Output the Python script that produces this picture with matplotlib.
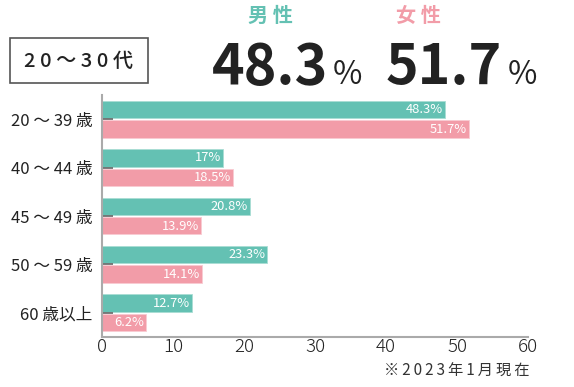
import matplotlib
matplotlib.use("Agg")
import matplotlib.pyplot as plt
from matplotlib.patches import Rectangle

plt.rcParams['font.family'] = ['Noto Sans CJK JP', 'DejaVu Sans']

categories = ["20 ～ 39 歳", "40 ～ 44 歳", "45 ～ 49 歳", "50 ～ 59 歳", "60 歳以上"]
male = [48.3, 17, 20.8, 23.3, 12.7]
female = [51.7, 18.5, 13.9, 14.1, 6.2]
male_labels = ["48.3%", "17%", "20.8%", "23.3%", "12.7%"]
female_labels = ["51.7%", "18.5%", "13.9%", "14.1%", "6.2%"]
xticks = [0, 10, 20, 30, 40, 50, 60]

TEAL = "#64c1b3"
PINK = "#f29ca8"

W, H = 574, 387
fig = plt.figure(figsize=(W / 100, H / 100), dpi=100)

def fx(x):
    return x / W

def fy(y):
    return 1 - y / H

ax = fig.add_axes([fx(102), fy(337), fx(528) - fx(102), fy(95) - fy(337)])

ys = list(range(len(categories)))
bh = 0.36
off = 0.2
ax.barh([y - off for y in ys], male, height=bh, color=TEAL, edgecolor="#a9ddd4", linewidth=0.6)
ax.barh([y + off for y in ys], female, height=bh, color=PINK, edgecolor="#f8cbd2", linewidth=0.6)

for y, v, t in zip(ys, male, male_labels):
    ax.text(v - 0.25, y - off, t, ha="right", va="center", color="white", fontsize=9.3)
for y, v, t in zip(ys, female, female_labels):
    ax.text(v - 0.25, y + off + 0.01, t, ha="right", va="center", color="white", fontsize=9.3)

ax.set_xlim(0, 60)
ax.set_ylim(4.5, -0.5)
ax.set_xticks(xticks)
ax.set_xticklabels([str(t) for t in xticks], fontsize=13.5, color="#222222", fontweight="light")
ax.set_yticks(ys)
ax.set_yticklabels(categories, fontsize=12, color="#222222")
ax.tick_params(axis="x", length=0, pad=1)
ax.tick_params(axis="y", direction="in", length=8, width=1.2, color="#666666", pad=7)
for s in ["top", "right"]:
    ax.spines[s].set_visible(False)
for s in ["left", "bottom"]:
    ax.spines[s].set_color("#aaaaaa")
    ax.spines[s].set_linewidth(1.5)

# header
box = Rectangle((fx(10), fy(83)), fx(148) - fx(10), fy(38) - fy(83), transform=fig.transFigure,
                fill=False, edgecolor="#555555", linewidth=1.2)
fig.add_artist(box)
fig.text(fx(79), fy(61), "2 0 ～ 3 0 代", ha="center", va="center", fontsize=14.5, color="#222222", fontweight="medium")

fig.text(fx(270), fy(15), "男 性", ha="center", va="center", fontsize=14.5, color=TEAL, fontweight="bold")
fig.text(fx(418), fy(15), "女 性", ha="center", va="center", fontsize=14.5, color=PINK, fontweight="bold")

fig.text(fx(328), fy(84), "48.3", ha="right", va="baseline", fontsize=40, color="#222222", fontweight="bold")
fig.text(fx(333), fy(84), "%", ha="left", va="baseline", fontsize=23, color="#222222")
fig.text(fx(502), fy(84), "51.7", ha="right", va="baseline", fontsize=40, color="#222222", fontweight="bold")
fig.text(fx(508), fy(84), "%", ha="left", va="baseline", fontsize=23, color="#222222")

hs = "\u2009"
fig.text(fx(530), fy(371), hs.join("※2023年1月現在"), ha="right", va="center", fontsize=11, color="#333333")

fig.savefig("out.png", dpi=100)
